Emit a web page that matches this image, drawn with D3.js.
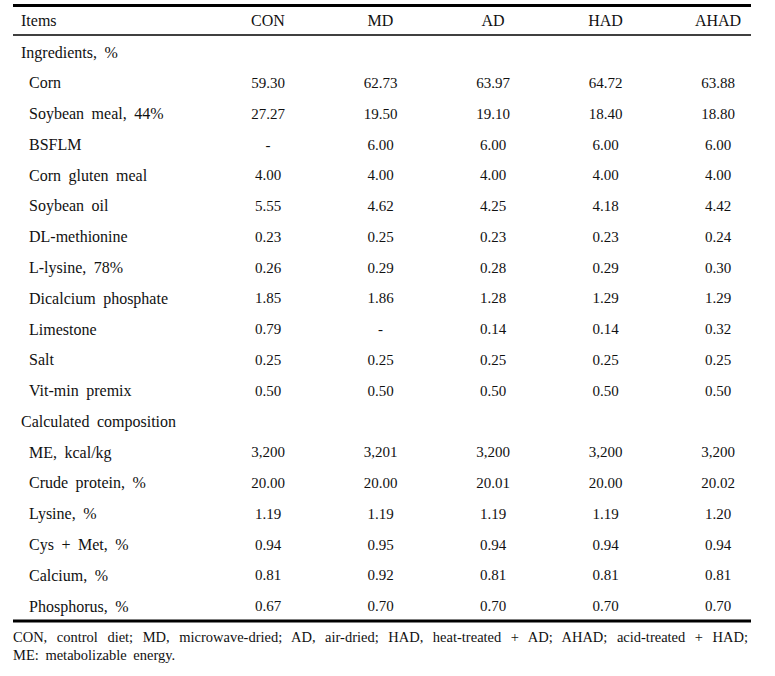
<!DOCTYPE html>
<html><head><meta charset="utf-8">
<script src="https://cdn.jsdelivr.net/npm/d3@7"></script>
<style>body{margin:0;background:#fff}svg{display:block}</style>
</head><body>
<script>
const columns = ["CON","MD","AD","HAD","AHAD"];
const rowLabels = ["Ingredients, %","Corn","Soybean meal, 44%","BSFLM","Corn gluten meal","Soybean oil","DL-methionine","L-lysine, 78%","Dicalcium phosphate","Limestone","Salt","Vit-min premix","Calculated composition","ME, kcal/kg","Crude protein, %","Lysine, %","Cys + Met, %","Calcium, %","Phosphorus, %"];
const sectionRows = ["Ingredients, %","Calculated composition"];
const CON  = ["","59.30","27.27","-","4.00","5.55","0.23","0.26","1.85","0.79","0.25","0.50","","3,200","20.00","1.19","0.94","0.81","0.67"];
const MD   = ["","62.73","19.50","6.00","4.00","4.62","0.25","0.29","1.86","-","0.25","0.50","","3,201","20.00","1.19","0.95","0.92","0.70"];
const AD   = ["","63.97","19.10","6.00","4.00","4.25","0.23","0.28","1.28","0.14","0.25","0.50","","3,200","20.01","1.19","0.94","0.81","0.70"];
const HAD  = ["","64.72","18.40","6.00","4.00","4.18","0.23","0.29","1.29","0.14","0.25","0.50","","3,200","20.00","1.19","0.94","0.81","0.70"];
const AHAD = ["","63.88","18.80","6.00","4.00","4.42","0.24","0.30","1.29","0.32","0.25","0.50","","3,200","20.02","1.20","0.94","0.81","0.70"];
const seriesValues = [CON, MD, AD, HAD, AHAD];
const footnote = ["CON, control diet; MD, microwave-dried; AD, air-dried; HAD, heat-treated + AD; AHAD; acid-treated + HAD;","ME: metabolizable energy."];

const W = 775, H = 676;
const svg = d3.select("body").append("svg").attr("width", W).attr("height", H)
  .style("font-family", "'Liberation Serif', 'Times New Roman', serif").style("fill", "#111");

const x = d3.scalePoint().domain(columns).range([268, 718]);
const y = d3.scalePoint().domain(rowLabels).range([52, 606]);

const left = 13, right = 751;
svg.append("line").attr("x1", left).attr("x2", right).attr("y1", 5.5).attr("y2", 5.5).attr("stroke", "#000").attr("stroke-width", 3);
svg.append("line").attr("x1", left).attr("x2", right).attr("y1", 35).attr("y2", 35).attr("stroke", "#000").attr("stroke-width", 1.3);
svg.append("line").attr("x1", left).attr("x2", right).attr("y1", 621).attr("y2", 621).attr("stroke", "#000").attr("stroke-width", 3);

const fs = 16, fn = 15;
svg.append("text").attr("x", 21).attr("y", 20).attr("dy", "0.35em").attr("font-size", fs).text("Items");
svg.selectAll("text.hdr").data(columns).join("text").attr("class", "hdr")
  .attr("x", d => x(d)).attr("y", 20).attr("dy", "0.35em").attr("text-anchor", "middle").attr("font-size", fs).text(d => d);

svg.selectAll("text.lab").data(rowLabels).join("text").attr("class", "lab")
  .attr("x", d => sectionRows.includes(d) ? 21 : 29).attr("y", d => y(d)).attr("dy", "0.35em")
  .attr("font-size", fs).attr("word-spacing", 3.5).text(d => d);

columns.forEach((c, ci) => {
  svg.selectAll("text.v" + ci).data(seriesValues[ci].map((v, i) => ({v, r: rowLabels[i]})).filter(d => d.v !== ""))
    .join("text").attr("class", "v" + ci)
    .attr("x", x(c)).attr("y", d => y(d.r)).attr("dy", "0.35em").attr("text-anchor", "middle")
    .attr("font-size", fn).text(d => d.v);
});

const ffs = 14.5;
const f1 = svg.append("text").attr("x", left).attr("y", 637).attr("dy", "0.35em").attr("font-size", ffs).text(footnote[0]);
const nat = f1.node().getComputedTextLength();
const spaces = footnote[0].split(" ").length - 1;
f1.attr("word-spacing", Math.max(0, (right - 3 - left - nat) / spaces));
svg.append("text").attr("x", left).attr("y", 655).attr("dy", "0.35em").attr("font-size", ffs).attr("word-spacing", 3).text(footnote[1]);
</script>
</body></html>
